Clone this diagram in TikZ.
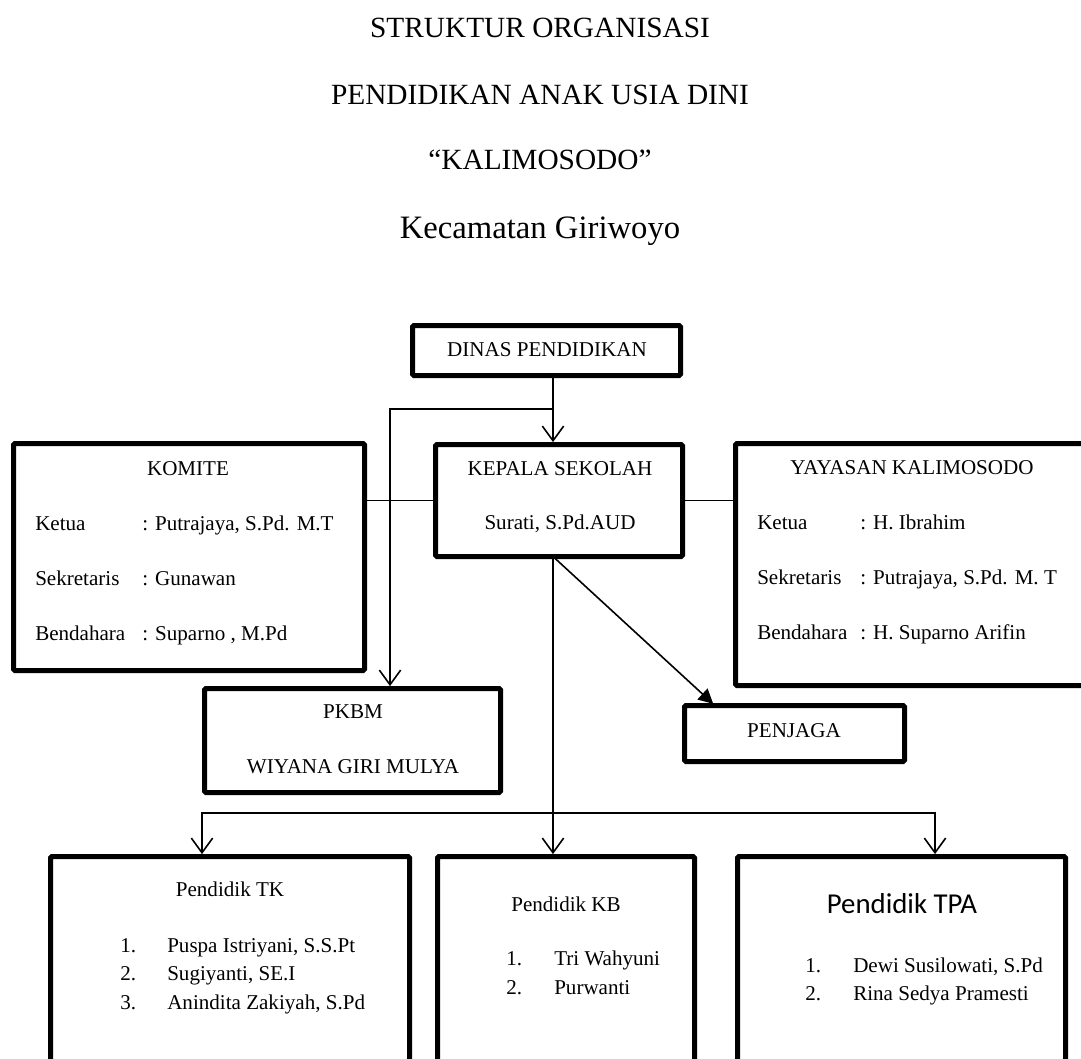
\documentclass[tikz,border=0pt]{standalone}
\usepackage{fontspec}
\setmainfont{Liberation Serif}
\newfontfamily\calib{Carlito}
\usetikzlibrary{arrows.meta}
\begin{document}
\begin{tikzpicture}[x=0.75pt,y=-0.75pt,
  box/.style={draw, line width=3.75pt, rounded corners=1pt, inner sep=0pt, outer sep=0pt, fill=white},
  sz/.style 2 args={minimum width=#1*0.75pt, minimum height=#2*0.75pt},
  conn/.style={line width=1.2pt},
  openarr/.style={-{Straight Barb[length=11pt,width=16pt]}, shorten >=1.8pt},
  filarr/.style={-{Triangle[length=11pt,width=11pt]}, shorten >=1.8pt},
  txt/.style={font=\fontsize{15.8}{19}\selectfont, inner sep=0pt, anchor=base},
  ltxt/.style={txt, anchor=base west},
  ttl/.style={font=\fontsize{22}{26}\selectfont, inner sep=0pt, anchor=base}]
\clip (0,0) rectangle (1081,1059);
\fill[white] (0,0) rectangle (1081,1059);

% titles
\node[ttl] (t1) at (540,38) {STRUKTUR ORGANISASI};
\node[ttl] (t2) at (540,105) {PENDIDIKAN ANAK USIA DINI};
\node[ttl] (t3) at (540,170) {“KALIMOSODO”};
\node[ttl, font=\fontsize{24.5}{28}\selectfont] (t4) at (540,239) {Kecamatan Giriwoyo};

% boxes
\node[box, sz={268}{50}] (dinas) at (546.5,350.5) {};
\node[box, sz={247}{112}] (kepala) at (559,500.5) {};
\node[box, sz={351}{227}] (komite) at (189,557) {};
\node[box, sz={364.5}{242}] (yayasan) at (917.75,564.5) {};
\node[box, sz={296}{104}] (pkbm) at (352.5,740.5) {};
\node[box, sz={220}{56}] (penjaga) at (794.5,733.5) {};
\node[box, sz={359}{243.5}] (tk) at (230,978.25) {};
\node[box, sz={257}{243.5}] (kb) at (566,978.25) {};
\node[box, sz={328}{243.5}] (tpa) at (901.5,978.25) {};

% texts
\node[txt] (dinast) at (547,356) {DINAS PENDIDIKAN};
\node[txt] (kep1) at (560,475) {KEPALA SEKOLAH};
\node[txt] (kep2) at (560,529) {Surati, S.Pd.AUD};

\node[txt] (kom0) at (188,475) {KOMITE};
\node[ltxt] (kom1a) at (35,530) {Ketua};
\node[ltxt] (kom1b) at (142,530) {: Putrajaya, S.Pd. M.T};
\node[ltxt] (kom2a) at (35,585) {Sekretaris};
\node[ltxt] (kom2b) at (142,585) {: Gunawan};
\node[ltxt] (kom3a) at (35,640) {Bendahara};
\node[ltxt] (kom3b) at (142,640) {: Suparno , M.Pd};

\node[txt] (yay0) at (912,474) {YAYASAN KALIMOSODO};
\node[ltxt] (yay1a) at (757,529) {Ketua};
\node[ltxt] (yay1b) at (860,529) {: H. Ibrahim};
\node[ltxt] (yay2a) at (757,584) {Sekretaris};
\node[ltxt] (yay2b) at (860,584) {: Putrajaya, S.Pd. M. T};
\node[ltxt] (yay3a) at (757,639) {Bendahara};
\node[ltxt] (yay3b) at (860,639) {: H. Suparno Arifin};

\node[txt] (pk1) at (353,718) {PKBM};
\node[txt] (pk2) at (353,773) {WIYANA GIRI MULYA};
\node[txt] (pjt) at (794,737) {PENJAGA};

\node[txt] (tk0) at (230,896) {Pendidik TK};
\node[ltxt] (tk1a) at (120,952) {1.};
\node[ltxt] (tk1b) at (167,952) {Puspa Istriyani, S.S.Pt};
\node[ltxt] (tk2a) at (120,980) {2.};
\node[ltxt] (tk2b) at (167,980) {Sugiyanti, SE.I};
\node[ltxt] (tk3a) at (120,1009) {3.};
\node[ltxt] (tk3b) at (167,1009) {Anindita Zakiyah, S.Pd};

\node[txt] (kb0) at (566,911) {Pendidik KB};
\node[ltxt] (kb1a) at (506,965) {1.};
\node[ltxt] (kb1b) at (554,965) {Tri Wahyuni};
\node[ltxt] (kb2a) at (506,994) {2.};
\node[ltxt] (kb2b) at (554,994) {Purwanti};

\node[txt, font=\calib\fontsize{21.6}{26}\selectfont] (tpa0) at (902,913) {Pendidik TPA};
\node[ltxt] (tpa1a) at (805,972) {1.};
\node[ltxt] (tpa1b) at (853,972) {Dewi Susilowati, S.Pd};
\node[ltxt] (tpa2a) at (805,1000) {2.};
\node[ltxt] (tpa2b) at (853,1000) {Rina Sedya Pramesti};

% connectors
\coordinate (j1) at (553,409);
\coordinate (j2) at (390,409);
\coordinate (b1) at (553,813);
\coordinate (bl) at (202,813);
\coordinate (br) at (935,813);
\coordinate (pj) at (715,705);

\draw[conn,openarr] (dinas.south -| j1) -- (kepala.north -| j1);
\draw[conn,openarr] (j1) -- (j2) -- (j2 |- pkbm.north);
\draw[conn] (kepala.west) -- (kepala.west -| komite.east);
\draw[conn] (kepala.east) -- (kepala.east -| yayasan.west);
\draw[conn,openarr] (kepala.south -| b1) -- (kb.north -| b1);
\draw[conn,openarr] (b1) -- (bl) -- (bl |- tk.north);
\draw[conn,openarr] (b1) -- (br) -- (br |- tpa.north);
\draw[conn,filarr] (kepala.south -| b1) -- (pj |- penjaga.north);
\end{tikzpicture}
\end{document}
